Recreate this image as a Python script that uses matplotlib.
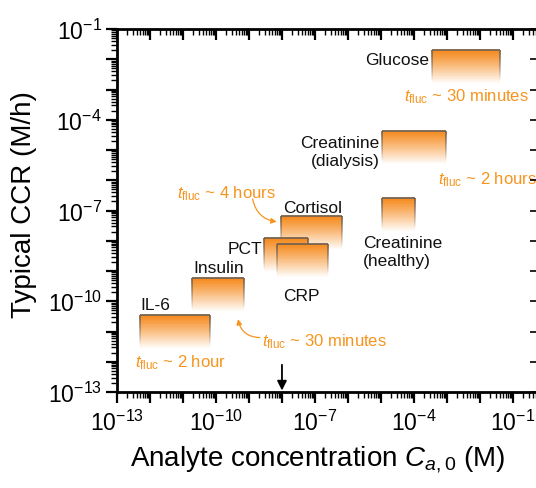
import numpy as np
import matplotlib
matplotlib.use('Agg')
import matplotlib.pyplot as plt
from matplotlib.collections import LineCollection
from matplotlib.ticker import LogLocator, FuncFormatter, NullFormatter, NullLocator

plt.rcParams['font.family'] = ['Liberation Sans', 'DejaVu Sans']
plt.rcParams['mathtext.fontset'] = 'custom'
plt.rcParams['mathtext.rm'] = 'Liberation Sans'
plt.rcParams['mathtext.it'] = 'Liberation Sans:italic'
plt.rcParams['mathtext.bf'] = 'Liberation Sans:bold'

# analytes: concentration range (M) and typical CCR (M/h), drawn in this order
analytes = ['Cortisol', 'PCT', 'CRP', 'Insulin', 'IL-6', 'Glucose',
            'Creatinine (dialysis)', 'Creatinine (healthy)']
conc_low = [9.3e-9, 2.9e-9, 6.9e-9, 1.9e-11, 5.1e-13, 3.5e-4, 1.1e-5, 1.1e-5]
conc_high = [6.5e-7, 6.0e-8, 2.4e-7, 7.1e-10, 6.6e-11, 4.1e-2, 9.3e-4, 1.07e-4]
ccr = [6.4e-8, 1.2e-8, 8.0e-9, 5.9e-10, 3.5e-11, 2.0e-2, 4.4e-5, 2.6e-7]

xlim = (1e-13, 10 ** -0.24)
ylim = (1e-13, 1e-1)
arrow_conc = 1e-8

orange = np.array([245, 138, 30]) / 255.0
text_orange = '#F7941D'
edge = np.array([120, 100, 80]) / 255.0

fig = plt.figure(figsize=(5.36, 4.89), dpi=100)
ax = fig.add_axes([117 / 536, 96 / 489, 421 / 536, 363 / 489])
ax.set_xscale('log')
ax.set_yscale('log')
ax.set_xlim(*xlim)
ax.set_ylim(*ylim)


def draw_box(x0, x1, top, z, fade=1.15, n=60):
    lt = np.log10(top)
    levels = np.linspace(lt, lt - fade, n + 1)
    for i in range(n):
        f = i / n
        w = min(1.0, f ** 1.1 * 1.05)
        c = orange * (1 - w) + np.array([1, 1, 1]) * w
        ax.fill_between([x0, x1], 10 ** levels[i + 1], 10 ** levels[i],
                        color=c, lw=0, zorder=z)
    # outline, sides fading out
    ax.plot([x0, x1], [top, top], color=edge, lw=1.3, zorder=z + 0.1,
            solid_capstyle='butt')
    segs = []
    cols = []
    for i in range(n):
        f = i / n
        a = max(0.0, 1 - f * 1.15)
        for xx in (x0, x1):
            segs.append([(xx, 10 ** levels[i]), (xx, 10 ** levels[i + 1])])
            cols.append((*edge, a))
    ax.add_collection(LineCollection(segs, colors=cols, lw=1.3, zorder=z + 0.1))


for k in range(len(analytes)):
    draw_box(conc_low[k], conc_high[k], ccr[k], z=2 + k)

# axis ticks
ax.xaxis.set_major_locator(LogLocator(base=10, numticks=30))
ax.yaxis.set_major_locator(LogLocator(base=10, numticks=30))
ax.xaxis.set_minor_locator(LogLocator(base=10, subs=np.arange(2, 10), numticks=30))
ax.yaxis.set_minor_locator(LogLocator(base=10, subs=np.arange(2, 10), numticks=30))


def fmt(v, pos):
    e = int(round(np.log10(v)))
    if e % 3 == 2:
        return r'$\mathrm{10^{%d}}$' % e
    return ''


ax.xaxis.set_major_formatter(FuncFormatter(fmt))
ax.yaxis.set_major_formatter(FuncFormatter(fmt))
ax.xaxis.set_minor_formatter(NullFormatter())
ax.yaxis.set_minor_formatter(NullFormatter())
ax.tick_params(which='major', direction='out', length=8, width=1.6,
               labelsize=16.5, top=False, right=False)
ax.tick_params(which='minor', direction='out', length=4, width=1.0,
               top=False, right=False)
ax.tick_params(axis='x', which='major', pad=5)
ax.tick_params(axis='y', which='major', pad=3)
for s in ax.spines.values():
    s.set_linewidth(2)

# top ticks point inward
axt = ax.twiny()
axt.set_xscale('log')
axt.set_xlim(*xlim)
axt.xaxis.set_major_locator(LogLocator(base=10, numticks=30))
axt.xaxis.set_minor_locator(LogLocator(base=10, subs=np.arange(2, 10), numticks=30))
axt.xaxis.set_major_formatter(NullFormatter())
axt.xaxis.set_minor_formatter(NullFormatter())
axt.tick_params(which='major', direction='in', length=8, width=1.6)
axt.tick_params(which='minor', direction='in', length=4, width=1.0)
for s in axt.spines.values():
    s.set_visible(False)

# right ticks point inward (spine sits just outside the picture)
axr = ax.twinx()
axr.set_yscale('log')
axr.set_ylim(*ylim)
axr.yaxis.set_major_locator(LogLocator(base=10, numticks=30))
axr.yaxis.set_minor_locator(NullLocator())
axr.yaxis.set_major_formatter(NullFormatter())
axr.tick_params(which='major', direction='in', length=6, width=1.2)
for s in axr.spines.values():
    s.set_visible(False)

ax.set_xlabel(r'Analyte concentration $\mathit{C}_{\mathit{a},0}$ (M)', fontsize=20)
ax.set_ylabel('Typical CCR (M/h)', fontsize=20)
ax.xaxis.set_label_coords(0.477, -0.14)
ax.yaxis.set_label_coords(-0.19, 0.52)

# analyte labels
lab = dict(fontsize=12.5, color='#111111', zorder=20)
ax.text(10 ** -3.55, 10 ** -2.0, 'Glucose', ha='right', va='center', **lab)
ax.text(10 ** -5.05, 10 ** -5.05, 'Creatinine\n(dialysis)', ha='right', va='center',
        linespacing=1.25, **lab)
ax.text(10 ** -5.55, 10 ** -8.37, 'Creatinine\n(healthy)', ha='left', va='center',
        linespacing=1.25, **lab)
ax.text(10 ** -7.95, 10 ** -6.9, 'Cortisol', ha='left', va='center', **lab)
ax.text(10 ** -8.6, 10 ** -8.25, 'PCT', ha='right', va='center', **lab)
ax.text(10 ** -7.95, 10 ** -9.8, 'CRP', ha='left', va='center', **lab)
ax.text(10 ** -10.7, 10 ** -8.9, 'Insulin', ha='left', va='center', **lab)
ax.text(10 ** -12.3, 10 ** -10.12, 'IL-6', ha='left', va='center', **lab)

# fluctuation time notes
note = dict(fontsize=12, color=text_orange, zorder=20)
tf = r'$\mathit{t}_{\mathrm{fluc}}$'
ax.text(10 ** -4.3, 10 ** -3.2, tf + ' ~ 30 minutes', ha='left', va='center', **note)
ax.text(10 ** -3.27, 10 ** -5.95, tf + ' ~ 2 hours', ha='left', va='center', **note)
ax.text(10 ** -11.18, 10 ** -6.4, tf + ' ~ 4 hours', ha='left', va='center', **note)
ax.text(10 ** -12.45, 10 ** -12.0, tf + ' ~ 2 hour', ha='left', va='center', **note)
ax.text(10 ** -8.6, 10 ** -11.3, tf + ' ~ 30 minutes', ha='left', va='center', **note)

ax.annotate('', xy=(10 ** -8.16, 10 ** -7.37), xytext=(10 ** -8.89, 10 ** -6.62),
            arrowprops=dict(arrowstyle='-|>', color=text_orange, lw=0.9,
                            mutation_scale=8, connectionstyle='arc3,rad=0.35',
                            shrinkA=0, shrinkB=0), zorder=20)
ax.annotate('', xy=(10 ** -9.33, 10 ** -10.59), xytext=(10 ** -8.67, 10 ** -11.2),
            arrowprops=dict(arrowstyle='-|>', color=text_orange, lw=0.9,
                            mutation_scale=8, connectionstyle='arc3,rad=-0.4',
                            shrinkA=0, shrinkB=0), zorder=20)

# marker arrow at the x axis
ax.annotate('', xy=(arrow_conc, 10 ** -12.95), xytext=(arrow_conc, 10 ** -12.1),
            arrowprops=dict(arrowstyle='-|>', color='black', lw=1.3,
                            mutation_scale=14, shrinkA=0, shrinkB=0), zorder=20)

fig.savefig('out.png', dpi=100)
